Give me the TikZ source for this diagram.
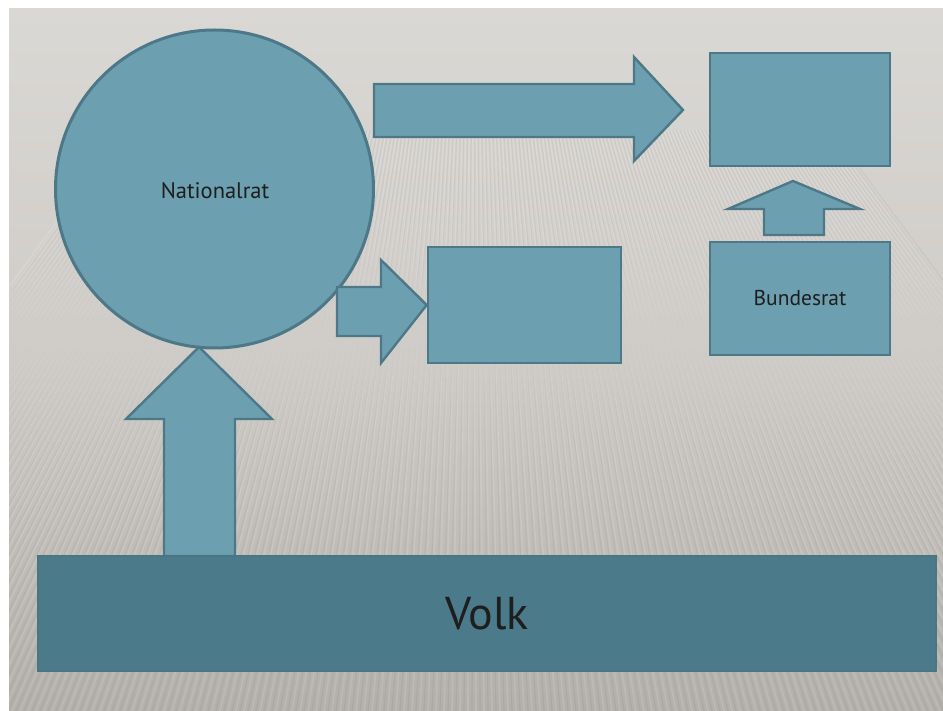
\documentclass[tikz,border=0pt]{standalone}
\usepackage{fontspec}
\setmainfont{PT Sans}
\definecolor{bgtop}{HTML}{DAD8D4}
\definecolor{bgmid}{HTML}{CFCCC8}
\definecolor{bgbot}{HTML}{B3AFAA}
\definecolor{shapefill}{HTML}{6C9FB0}
\definecolor{shapeline}{HTML}{4D7888}
\definecolor{volkfill}{HTML}{4B7A8A}
\definecolor{volkline}{HTML}{4A7585}
\definecolor{txt}{HTML}{1E1E1E}
\tikzset{
  shapestyle/.style={fill=shapefill, draw=shapeline, line width=2.6pt, line join=miter},
  boxnode/.style={shapestyle, rectangle, inner sep=0pt},
  circnode/.style={shapestyle, circle, inner sep=0pt, line width=3pt},
  blockarrow/.style={shapestyle, line width=2.4pt},
  lbl/.style={text=txt, font=\fontsize{22.5}{22.5}\selectfont}
}
\begin{document}
\begin{tikzpicture}[x=1pt,y=-1pt]
\useasboundingbox (0,0) rectangle (943,711);
\fill[white] (0,0) rectangle (943,711);
\shade[top color=bgtop, bottom color=bgbot, middle color=bgmid] (9,9) rectangle (943,711);
\begin{scope}
\clip (9,130) rectangle (943,711);
\foreach \xb in {-300,-292,...,1260} {
  \draw[white, opacity=0.12, line width=1.6pt] ({470+(\xb-470)*0.45},130) -- (\xb,711);
  \draw[black, opacity=0.04, line width=1.2pt] ({474+(\xb+4-470)*0.45},130) -- (\xb+4,711);
}
\end{scope}
% nodes
\node[circnode, minimum size=318pt] (nr) at (214.5,189) {};
\node[lbl] (nrlbl) at (215,191) {Nationalrat};
\node[boxnode, minimum width=180pt, minimum height=113pt] (top) at (800,109.5) {};
\node[boxnode, minimum width=180pt, minimum height=113pt] (br) at (800,298.5) {};
\node[lbl, font=\fontsize{21.5}{21.5}\selectfont] (brlbl) at (br.center) {Bundesrat};
\node[boxnode, minimum width=193pt, minimum height=116pt] (mid) at (524.5,305) {};
\coordinate (toptip) at (683,110);
\coordinate (uptip) at (199,347);
% arrows
\draw[blockarrow] (374,84) -- (634,84) -- (634,57) -- (toptip) -- (634,161) -- (634,137) -- (374,137) -- cycle;
\draw[blockarrow] (337,287) -- (381,287) -- (381,260) -- (mid.west) -- (381,363) -- (381,336) -- (337,336) -- cycle;
\draw[blockarrow] (764,235) -- (764,209) -- (728,209) -- (793,181) -- (860,209) -- (824,209) -- (824,235) -- cycle;
\draw[blockarrow] (164,556) -- (164,419) -- (126,419) -- (uptip) -- (272,419) -- (235,419) -- (235,556) -- cycle;
\node[fill=volkfill, draw=volkline, line width=1.5pt, rectangle, inner sep=0pt, minimum width=898pt, minimum height=115pt,
      text=txt, font=\fontsize{46}{46}\selectfont] (volk) at (487,613.5) {Volk};
\end{tikzpicture}
\end{document}
